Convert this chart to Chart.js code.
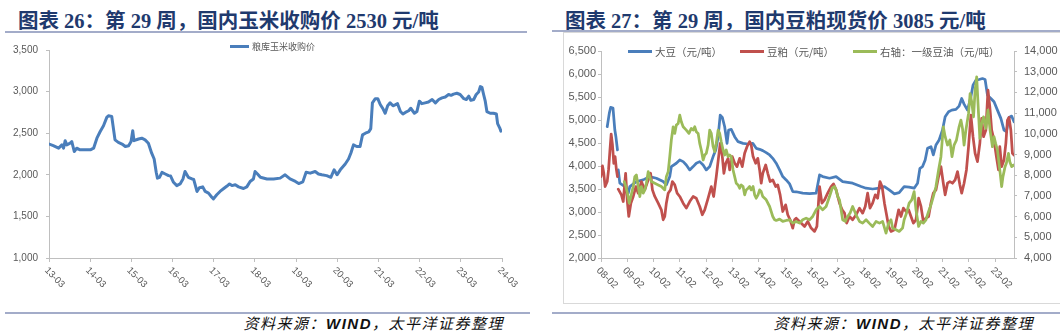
<!DOCTYPE html>
<html>
<head>
<meta charset="utf-8">
<script src="https://cdn.jsdelivr.net/npm/chart.js@4.4.1/dist/chart.umd.min.js"></script>
<style>
  html, body { margin: 0; padding: 0; background: #fff; }
  body { width: 1060px; height: 333px; position: relative; overflow: hidden; }
  .title { position: absolute; top: 4px; line-height: 20px; font: bold 20.5px "Liberation Serif", "Noto Sans CJK SC", serif; color: #1f3a6e; white-space: nowrap; }
  .rule { position: absolute; height: 2px; background: #a3acc9; }
  .source { position: absolute; top: 312px; line-height: 20px; font: italic 15px "Noto Sans CJK SC", sans-serif; letter-spacing: 1.5px; color: #111; white-space: nowrap; text-align: right; }
  .source b { font-family: "Liberation Sans", sans-serif; font-weight: bold; }
  .legend { position: absolute; display: flex; align-items: center; white-space: nowrap; color: #595959; font-family: "Noto Sans CJK SC", sans-serif; z-index: 2; }
  .swatch { display: inline-block; height: 3px; margin-right: 3px; }
  .frame { position: absolute; border: 1px solid #d9d9d9; }
  canvas { position: absolute; }
</style>
</head>
<body>
<div class="title" style="left:18px">图表 26：第 29 周，国内玉米收购价 2530 元/吨</div>
<div class="title" style="left:565px">图表 27：第 29 周，国内豆粕现货价 3085 元/吨</div>
<div class="rule" style="left:5px; width:522px; top:31px"></div>
<div class="rule" style="left:552px; width:508px; top:30px"></div>
<div class="frame" style="left:563px; top:32px; width:496px; height:270px"></div>

<canvas id="cornChart" width="530" height="264" style="left:0; top:36px"></canvas>
<canvas id="soyChart" width="530" height="264" style="left:530px; top:36px"></canvas>

<div class="legend" style="left:230px; top:38px; font-size:9px; height:16px"><span class="swatch" style="width:19px; background:#4a7ebb"></span>粮库玉米收购价</div>
<div class="legend" style="left:628px; top:43px; font-size:10.5px; height:16px"><span class="swatch" style="width:24px; background:#4a7ebb"></span>大豆（元/吨）</div>
<div class="legend" style="left:740px; top:43px; font-size:10.5px; height:16px"><span class="swatch" style="width:24px; background:#c0504d"></span>豆粕（元/吨）</div>
<div class="legend" style="left:853px; top:43px; font-size:10.5px; height:16px"><span class="swatch" style="width:24px; background:#9bbb59"></span>右轴：一级豆油（元/吨）</div>

<div class="rule" style="left:5px; width:525px; top:312px"></div>
<div class="rule" style="left:552px; width:508px; top:312px"></div>
<div class="source" style="right:556px">资料来源：<b>WIND</b>，太平洋证券整理</div>
<div class="source" style="right:26px">资料来源：<b>WIND</b>，太平洋证券整理</div>

<script>
// Corn purchase price at grain depots (yuan/ton), dates as decimal years
const cornDates = [
  2013.17,2013.27,2013.40,2013.48,2013.52,2013.56,2013.60,2013.68,2013.72,2013.78,
  2013.84,2013.92,2014.10,2014.17,2014.25,2014.33,2014.41,2014.49,2014.57,2014.61,
  2014.69,2014.77,2014.85,2014.94,2015.02,2015.10,2015.16,2015.20,2015.23,2015.34,
  2015.42,2015.50,2015.58,2015.66,2015.72,2015.77,2015.80,2015.85,2015.91,2015.99,
  2016.07,2016.12,2016.19,2016.27,2016.35,2016.42,2016.47,2016.55,2016.64,2016.68,
  2016.76,2016.82,2016.90,2016.96,2017.04,2017.12,2017.16,2017.24,2017.32,2017.41,
  2017.49,2017.55,2017.61,2017.69,2017.77,2017.89,2017.97,2018.05,2018.13,2018.17,
  2018.23,2018.30,2018.46,2018.62,2018.78,2018.90,2019.02,2019.15,2019.23,2019.33,
  2019.41,2019.51,2019.63,2019.71,2019.79,2019.91,2020.01,2020.09,2020.16,2020.24,
  2020.36,2020.44,2020.50,2020.56,2020.64,2020.72,2020.78,2020.85,2020.93,2020.98,
  2021.02,2021.09,2021.15,2021.21,2021.28,2021.33,2021.39,2021.45,2021.52,2021.57,
  2021.63,2021.70,2021.76,2021.82,2021.90,2021.95,2022.04,2022.10,2022.16,2022.22,
  2022.30,2022.38,2022.47,2022.55,2022.63,2022.71,2022.79,2022.87,2022.93,2022.99,
  2023.07,2023.15,2023.24,2023.30,2023.36,2023.41,2023.48,2023.54,2023.60,2023.64,
  2023.68,2023.72,2023.76,2023.80,2023.88,2023.96,2024.03,2024.06,2024.11,2024.14,
  2024.17
];
const cornPrices = [
  2370,2350,2320,2360,2320,2410,2360,2380,2400,2280,
  2320,2300,2300,2300,2320,2440,2520,2590,2690,2710,
  2700,2420,2390,2370,2340,2350,2400,2530,2410,2430,
  2440,2420,2380,2260,2190,2030,1960,1970,2030,2010,
  1990,1985,1910,1870,1890,1950,2040,1970,1950,1945,
  1800,1845,1855,1800,1780,1730,1710,1760,1800,1835,
  1865,1890,1870,1880,1855,1835,1855,1920,1950,2040,
  2010,1970,1950,1950,1960,2000,1950,1920,1895,1915,
  2030,2020,2040,2010,2000,1990,1970,2060,2000,2060,
  2130,2190,2265,2360,2340,2340,2480,2500,2515,2555,
  2865,2915,2915,2845,2790,2740,2830,2865,2830,2840,
  2855,2760,2730,2750,2770,2800,2740,2760,2885,2855,
  2865,2875,2905,2865,2905,2925,2935,2965,2955,2970,
  2980,2965,2915,2905,2945,2895,2905,2965,2995,3060,
  3050,2965,2885,2760,2740,2740,2730,2615,2565,2525,
  2530
];
const cornTickLabels = ['13-03','14-03','15-03','16-03','17-03','18-03','19-03','20-03','21-03','22-03','23-03','24-03'];

// Soybean spot price (yuan/ton); null marks a break in the series
const soybeanDates = [
  2008.32,2008.40,2008.45,2008.54,2008.61,2008.65,2008.71,2008.725,2008.74,2008.80,
  2008.99,2009.12,2009.18,2009.43,2009.69,2009.94,2010.19,2010.45,2010.57,2010.70,
  2010.76,2010.95,2011.08,2011.21,2011.33,2011.46,2011.59,2011.71,2011.84,2011.97,
  2012.09,2012.22,2012.35,2012.45,2012.54,2012.62,2012.70,2012.79,2012.88,2012.94,
  2013.04,2013.17,2013.30,2013.49,2013.68,2013.86,2013.99,2014.12,2014.24,2014.37,
  2014.50,2014.62,2014.75,2014.88,2015.00,2015.13,2015.26,2015.38,2015.51,2015.76,
  2016.02,2016.27,2016.40,2016.52,2016.78,2017.03,2017.28,2017.66,2017.98,2018.17,
  2018.42,2018.68,2018.87,2019.05,2019.25,2019.43,2019.62,2019.81,2020.00,2020.13,
  2020.22,2020.32,2020.42,2020.51,2020.64,2020.73,2020.83,2020.95,2021.08,2021.18,
  2021.31,2021.43,2021.59,2021.71,2021.81,2021.90,2022.03,2022.16,2022.24,2022.35,
  2022.47,2022.60,2022.70,2022.79,2022.92,2023.04,2023.17,2023.30,2023.42,2023.51,
  2023.61,2023.71,2023.80
];
const soybeanPrices = [
  4854,5150,5273,5260,4782,4637,4348,null,3915,3626,
  3553,3409,3553,3662,3698,3770,3734,3662,3590,3770,
  3987,4060,4131,4095,4023,3915,3987,4060,4095,4023,
  3915,3987,4204,4348,4637,5107,5056,4854,4493,4782,
  4796,4637,4529,4493,4478,4493,4384,4362,4334,4290,
  4240,4167,4060,3915,3770,3698,3611,3445,3440,3410,
  3400,3410,3806,3770,3734,3770,3662,3626,3553,3517,
  3500,3517,3553,3481,3394,3420,3553,3540,3517,3626,
  3950,3987,4131,4384,4420,4240,4457,4565,4782,5071,
  5179,5215,5230,5302,5468,5345,5215,5504,5757,5865,
  5880,5902,5880,5540,5468,5396,5215,5035,4782,4745,
  5056,5085,4962
];

// Soybean meal spot price (yuan/ton)
const mealDates = [
  2008.08,2008.14,2008.19,2008.24,2008.32,2008.37,2008.42,2008.47,2008.52,2008.57,
  2008.62,2008.67,2008.71,2008.725,2008.74,2008.86,2008.93,2009.02,2009.08,2009.14,
  2009.22,2009.31,2009.41,2009.50,2009.62,2009.75,2009.88,2009.97,2010.04,2010.13,
  2010.26,2010.38,2010.45,2010.51,2010.57,2010.64,2010.73,2010.80,2010.89,2010.98,
  2011.08,2011.21,2011.33,2011.46,2011.59,2011.71,2011.84,2011.94,2012.03,2012.16,
  2012.28,2012.37,2012.47,2012.56,2012.62,2012.70,2012.76,2012.83,2012.92,2012.98,
  2013.08,2013.17,2013.26,2013.36,2013.46,2013.55,2013.64,2013.74,2013.80,2013.87,
  2013.97,2014.05,2014.12,2014.18,2014.24,2014.35,2014.43,2014.52,2014.62,2014.73,
  2014.81,2014.90,2015.00,2015.11,2015.19,2015.28,2015.38,2015.45,2015.51,2015.64,
  2015.83,2015.95,2016.08,2016.21,2016.30,2016.40,2016.49,2016.59,2016.71,2016.84,
  2016.93,2017.03,2017.16,2017.26,2017.35,2017.43,2017.54,2017.66,2017.79,2017.92,
  2018.04,2018.14,2018.23,2018.32,2018.42,2018.52,2018.61,2018.70,2018.78,2018.87,
  2018.95,2019.03,2019.12,2019.25,2019.33,2019.41,2019.50,2019.59,2019.69,2019.79,
  2019.88,2019.97,2020.07,2020.17,2020.26,2020.35,2020.45,2020.55,2020.64,2020.73,
  2020.83,2020.93,2021.02,2021.11,2021.18,2021.27,2021.36,2021.46,2021.56,2021.65,
  2021.74,2021.81,2021.90,2021.99,2022.07,2022.16,2022.24,2022.32,2022.41,2022.50,
  2022.57,2022.64,2022.73,2022.81,2022.88,2022.95,2023.04,2023.13,2023.21,2023.26,
  2023.33,2023.42,2023.49,2023.55,2023.61,2023.68,2023.74,2023.80
];
const mealPrices = [
  3770,4001,3842,3553,3662,3915,4312,4695,4457,4059,
  4204,3915,3770,null,3496,3373,3228,3842,3264,2903,
  3192,3337,3553,3409,3662,3481,3698,3842,3481,3337,
  3192,3048,2831,2903,3192,3409,3481,3662,3590,3409,
  3337,3192,3084,3228,3337,3300,3120,2940,3048,3300,
  3553,3337,3770,4204,4493,4204,3842,4059,4167,3915,
  4204,4059,3987,4167,3987,4276,4420,4529,4457,4204,
  4059,4167,3915,3626,3842,4023,3842,3662,3698,3553,
  3590,3373,3011,3156,2940,2831,2650,2831,2867,2795,
  2686,2795,2650,2578,2686,3553,3192,3264,3409,3553,
  3611,3481,3192,3048,2975,2759,2903,2831,2940,3084,
  2975,3120,3409,3084,3192,3373,3300,3662,3553,3192,
  2940,2686,2578,2614,2831,3048,2903,3084,3011,3048,
  2903,2759,2831,3300,3120,2795,2867,2903,3192,3409,
  3481,3770,3987,3626,3373,3626,3662,3626,3698,3878,
  3590,3409,3626,3915,4420,5107,4637,4276,4095,4493,
  5035,4637,4782,5649,5287,4782,4565,4204,3915,4420,
  3987,4131,4493,4998,5056,4782,4276,4240
];

// First-grade soybean oil (yuan/ton), plotted on the right axis
const oilDates = [
  2008.97,2009.03,2009.09,2009.16,2009.22,2009.31,2009.37,2009.43,2009.50,2009.56,
  2009.62,2009.69,2009.75,2009.81,2009.88,2009.94,2010.00,2010.13,2010.26,2010.38,
  2010.51,2010.57,2010.64,2010.70,2010.76,2010.83,2010.89,2010.95,2011.02,2011.08,
  2011.14,2011.21,2011.33,2011.43,2011.52,2011.59,2011.65,2011.71,2011.78,2011.84,
  2011.90,2011.97,2012.03,2012.09,2012.16,2012.22,2012.28,2012.35,2012.41,2012.47,
  2012.54,2012.60,2012.66,2012.73,2012.79,2012.85,2012.92,2012.98,2013.04,2013.11,
  2013.17,2013.23,2013.30,2013.36,2013.42,2013.49,2013.55,2013.61,2013.68,2013.74,
  2013.80,2013.87,2013.93,2013.99,2014.06,2014.12,2014.18,2014.24,2014.37,2014.50,
  2014.56,2014.62,2014.69,2014.75,2014.88,2015.00,2015.13,2015.26,2015.38,2015.51,
  2015.64,2015.76,2015.89,2016.02,2016.14,2016.27,2016.40,2016.52,2016.65,2016.78,
  2016.88,2016.97,2017.03,2017.09,2017.16,2017.22,2017.28,2017.38,2017.47,2017.56,
  2017.66,2017.79,2017.92,2018.04,2018.17,2018.29,2018.42,2018.55,2018.68,2018.80,
  2018.93,2019.03,2019.12,2019.18,2019.31,2019.43,2019.56,2019.62,2019.71,2019.81,
  2019.91,2020.00,2020.07,2020.17,2020.26,2020.35,2020.45,2020.55,2020.64,2020.73,
  2020.83,2020.93,2021.02,2021.11,2021.18,2021.27,2021.36,2021.44,2021.52,2021.61,
  2021.71,2021.78,2021.84,2021.90,2021.97,2022.07,2022.13,2022.19,2022.26,2022.32,
  2022.38,2022.45,2022.50,2022.57,2022.64,2022.73,2022.81,2022.89,2022.98,2023.04,
  2023.10,2023.17,2023.26,2023.33,2023.38,2023.46,2023.51,2023.59,2023.64,2023.71,
  2023.80
];
const oilPrices = [
  7692,7451,7130,6648,6969,7451,7932,8013,7451,6969,
  7451,7130,7290,7611,8173,7932,7692,7611,7531,7451,
  7290,7932,8173,8895,9698,10340,10019,10420,10500,10901,
  10581,10340,10179,10019,10260,10179,10340,10099,10019,9537,
  9216,8735,8975,9056,9457,10179,10019,9377,9136,9537,
  10179,10019,9618,9216,8975,9216,8895,8975,8895,8253,
  7932,7611,7531,7370,7531,7451,7050,7290,7370,7451,
  7290,7451,7050,6889,7050,7290,7210,6969,6809,6488,
  6247,6006,5846,5814,5878,5766,5814,5846,5685,5766,
  5685,5846,5926,5846,6006,6327,6488,6327,6488,6969,
  7370,7451,7290,6969,6809,6327,5846,5766,6006,6167,
  6488,6087,5766,5685,5846,5685,5525,5766,5685,5766,
  5204,5685,5846,5445,5364,5284,5445,5846,6167,6648,
  6809,7210,6327,5525,5766,5685,5846,6247,6568,6969,
  7451,8253,8895,10340,9858,9457,9698,8895,9457,9698,
  10340,10661,10260,9457,10179,10982,11945,11543,10822,12105,
  12747,10982,9778,10500,10822,10260,11142,10179,9377,9858,
  9537,9216,8253,7451,7932,8414,8574,9056,8654,8414,
  8494
];
const soyTickLabels = ['08-02','09-02','10-02','11-02','12-02','13-02','14-02','15-02','16-02','17-02','18-02','19-02','20-02','21-02','22-02','23-02'];

// "YY-MM" tick label -> decimal year
const labelToYear = s => 2000 + parseInt(s.slice(0, 2), 10) + (parseInt(s.slice(3), 10) - 1) / 12;
const toPoints = (xs, ys) => xs.map((x, i) => ({ x, y: ys[i] }));

const AXIS = '#bfbfbf';
const LABEL = '#595959';

// Draws the x tick labels slanted 45° downward to the right, starting at each tick
const slantedTicks = {
  id: 'slantedTicks',
  afterDraw(chart, args, o) {
    const s = chart.scales.x, ctx = chart.ctx;
    ctx.save();
    ctx.font = o.font;
    ctx.fillStyle = o.color;
    ctx.textAlign = 'left';
    ctx.textBaseline = 'middle';
    o.labels.forEach(lab => {
      const px = s.getPixelForValue(labelToYear(lab));
      ctx.save();
      ctx.translate(px + o.dx, s.top + o.dy);
      ctx.rotate(Math.PI / 4);
      ctx.fillText(lab, 0, 0);
      ctx.restore();
    });
    ctx.restore();
  }
};

function xScale(labels, min, max, height) {
  const values = labels.map(labelToYear);
  return {
    type: 'linear', min, max,
    afterBuildTicks: s => { s.ticks = values.map(v => ({ value: v })); },
    afterFit: s => { s.height = height; },
    ticks: { display: false },
    grid: { drawOnChartArea: false, drawTicks: true, tickLength: 4, color: AXIS },
    border: { color: AXIS }
  };
}

function yScale(min, max, step, width, pos, font, padding) {
  return {
    type: 'linear', position: pos, min, max,
    afterFit: s => { s.width = width; },
    ticks: { stepSize: step, color: LABEL, font, padding, callback: v => v.toLocaleString('en-US') },
    grid: { drawOnChartArea: false, tickLength: 3, color: AXIS },
    border: { color: AXIS }
  };
}

const common = {
  responsive: false, animation: false, devicePixelRatio: 1,
  elements: { point: { radius: 0 }, line: { tension: 0, borderCapStyle: 'round', borderJoinStyle: 'round' } },
};

new Chart(document.getElementById('cornChart'), {
  type: 'line',
  data: {
    datasets: [{
      label: '粮库玉米收购价',
      data: toPoints(cornDates, cornPrices),
      borderColor: '#4a7ebb', borderWidth: 3
    }]
  },
  options: {
    ...common,
    layout: { padding: { top: 8, right: 28, bottom: 0, left: 0 } },
    plugins: {
      legend: { display: false }, tooltip: { enabled: false },
      slantedTicks: { labels: cornTickLabels, font: '9.5px "Liberation Sans Narrow", "Liberation Sans", sans-serif', color: LABEL, dx: -3, dy: 11 }
    },
    scales: {
      x: xScale(cornTickLabels, labelToYear('13-03'), labelToYear('24-03'), 42),
      y: yScale(1000, 3500, 500, 49, 'left', { family: '"Liberation Sans Narrow", "Liberation Sans", sans-serif', size: 10 }, 8)
    }
  },
  plugins: [slantedTicks]
});

const soyFont = { family: '"Liberation Sans", sans-serif', size: 11 };
new Chart(document.getElementById('soyChart'), {
  type: 'line',
  data: {
    datasets: [
      { label: '大豆（元/吨）', data: toPoints(soybeanDates, soybeanPrices), borderColor: '#4a7ebb', borderWidth: 2.75, yAxisID: 'y', order: 2, spanGaps: false },
      { label: '豆粕（元/吨）', data: toPoints(mealDates, mealPrices), borderColor: '#c0504d', borderWidth: 2.75, yAxisID: 'y', order: 1, spanGaps: false },
      { label: '右轴：一级豆油（元/吨）', data: toPoints(oilDates, oilPrices), borderColor: '#9bbb59', borderWidth: 2.75, yAxisID: 'y2', order: 0 }
    ]
  },
  options: {
    ...common,
    layout: { padding: { top: 15, right: 0, bottom: 0, left: 0 } },
    plugins: {
      legend: { display: false }, tooltip: { enabled: false },
      slantedTicks: { labels: soyTickLabels, font: '10px "Liberation Sans", sans-serif', color: LABEL, dx: -3, dy: 11 }
    },
    scales: {
      x: xScale(soyTickLabels, labelToYear('08-02'), 2023.8, 42),
      y: yScale(2000, 6500, 500, 71, 'left', soyFont, 2),
      y2: yScale(4000, 14000, 1000, 46, 'right', soyFont, 7)
    }
  },
  plugins: [slantedTicks]
});
</script>
</body>
</html>
